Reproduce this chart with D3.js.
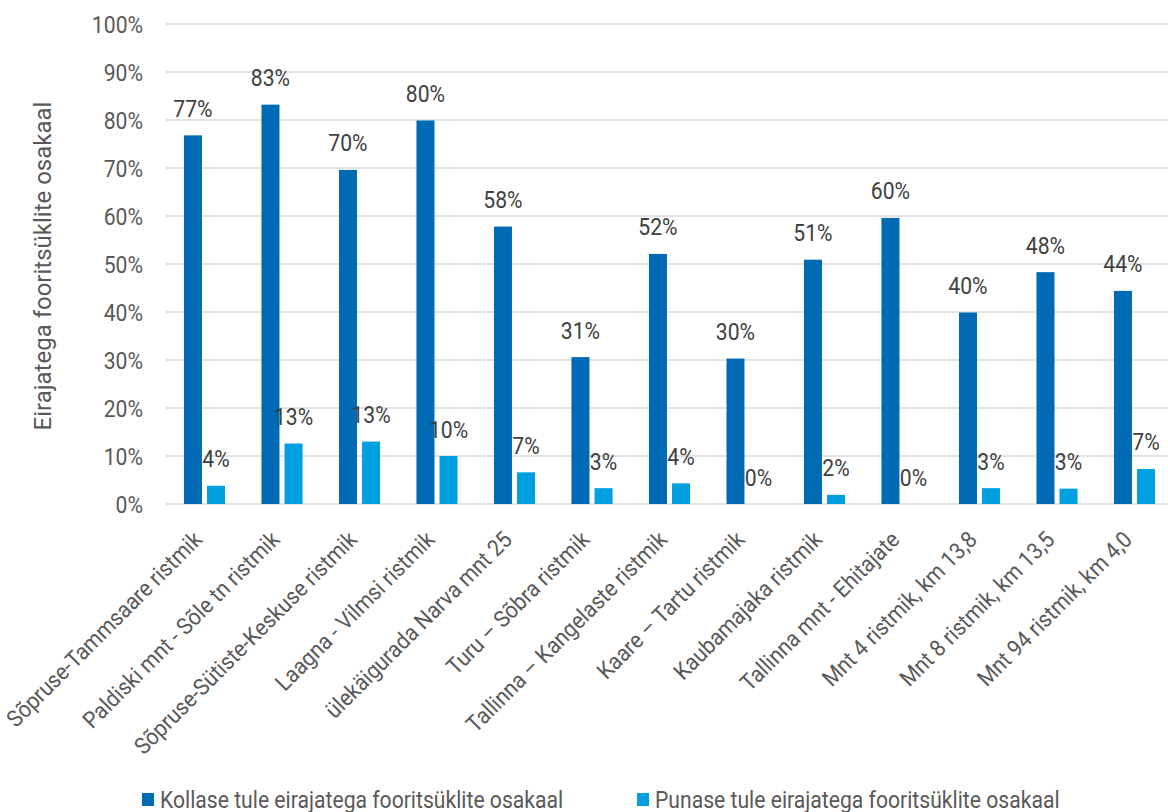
<!DOCTYPE html>
<html>
<head>
<meta charset="utf-8">
<script src="https://cdn.jsdelivr.net/npm/d3@7"></script>
<style>
  html, body { margin: 0; padding: 0; background: #fff; }
  svg { display: block; }
  text { font-family: Roboto, "Noto Sans", sans-serif; }
</style>
</head>
<body>
<svg id="chart" width="1168" height="812"></svg>
<script>
// Intersections
const categories = [
  "Sõpruse-Tammsaare ristmik",
  "Paldiski mnt - Sõle tn ristmik",
  "Sõpruse-Sütiste-Keskuse ristmik",
  "Laagna - Vilmsi ristmik",
  "ülekäigurada Narva mnt 25",
  "Turu – Sõbra ristmik",
  "Tallinna – Kangelaste ristmik",
  "Kaare – Tartu ristmik",
  "Kaubamajaka ristmik",
  "Tallinna mnt - Ehitajate",
  "Mnt 4 ristmik, km 13,8",
  "Mnt 8 ristmik, km 13,5",
  "Mnt 94 ristmik, km 4,0"
];

// Share of signal cycles with amber-light violations (%)
const amberValues = [76.8, 83.2, 69.6, 79.9, 57.8, 30.6, 52.1, 30.3, 50.9, 59.6, 39.9, 48.3, 44.4];
// Share of signal cycles with red-light violations (%)
const redValues = [3.8, 12.6, 13.0, 10.0, 6.6, 3.3, 4.3, 0, 1.9, 0, 3.3, 3.2, 7.3];

const seriesNames = [
  "Kollase tule eirajatega fooritsüklite osakaal",
  "Punase tule eirajatega fooritsüklite osakaal"
];
const seriesColors = ["#006AB4", "#009FDF"];

const yTicks = [0, 10, 20, 30, 40, 50, 60, 70, 80, 90, 100];
const yTitle = "Eirajatega fooritsüklite osakaal";

const rows = categories.map((c, i) => ({ cat: c, values: [amberValues[i], redValues[i]] }));

// Horizontal squeeze giving a condensed face from Roboto
const SX = 0.92;
const FS = 23;

const svg = d3.select("#chart");
const W = 1168;

const x0 = d3.scaleBand()
  .domain(categories)
  .range([165.75, 1173.25])
  .paddingInner(0.47)
  .paddingOuter(0.235);

const x1 = d3.scaleBand()
  .domain([0, 1])
  .range([0, x0.bandwidth()])
  .paddingInner(0.22);

const y = d3.scaleLinear().domain([0, 100]).range([504, 24]);

// Gridlines
svg.append("g")
  .selectAll("line")
  .data(yTicks)
  .join("line")
  .attr("x1", 166)
  .attr("x2", W)
  .attr("y1", d => y(d))
  .attr("y2", d => y(d))
  .attr("stroke", "#d9d9d9")
  .attr("stroke-width", 1.5);

// Y axis tick labels
const yAxis = d3.axisLeft(y)
  .tickValues(yTicks)
  .tickFormat(d => d + "%")
  .tickSize(0)
  .tickPadding(0);

const yg = svg.append("g")
  .attr("transform", "translate(143,0)")
  .call(yAxis);
yg.select(".domain").remove();
yg.selectAll("text")
  .attr("font-family", null)
  .attr("font-size", FS)
  .attr("fill", "#595959")
  .attr("x", 0)
  .attr("dy", "0.36em")
  .attr("transform", `scale(${SX},1)`);

// Y axis title
svg.append("text")
  .attr("transform", "translate(51,266) rotate(-90)")
  .attr("text-anchor", "middle")
  .attr("font-size", 24)
  .attr("fill", "#595959")
  .text(yTitle);

// Bars
const groups = svg.append("g")
  .selectAll("g")
  .data(rows)
  .join("g")
  .attr("transform", d => `translate(${x0(d.cat)},0)`);

groups.selectAll("rect")
  .data(d => d.values.map((v, i) => ({ v, i })))
  .join("rect")
  .attr("x", d => x1(d.i))
  .attr("width", x1.bandwidth())
  .attr("y", d => y(d.v))
  .attr("height", d => y(0) - y(d.v))
  .attr("fill", d => seriesColors[d.i]);

// Value labels
groups.selectAll("text")
  .data(d => d.values.map((v, i) => ({ v, i })))
  .join("text")
  .attr("transform", d => `translate(${x1(d.i) + x1.bandwidth() / 2},${y(d.v) - 18.5}) scale(${SX},1)`)
  .attr("text-anchor", "middle")
  .attr("font-size", FS)
  .attr("fill", "#404040")
  .text(d => Math.round(d.v) + "%");

// Category labels
svg.append("g")
  .selectAll("text")
  .data(categories)
  .join("text")
  .attr("text-anchor", "end")
  .attr("font-size", FS)
  .attr("fill", "#595959")
  .attr("transform", d => `translate(${x0(d) + x0.bandwidth() / 2 - 1},541) rotate(-45) scale(${SX},1)`)
  .text(d => d);

// Legend
const legendX = [142, 637];
const legend = svg.append("g")
  .selectAll("g")
  .data(seriesNames)
  .join("g")
  .attr("transform", (d, i) => `translate(${legendX[i]},793)`);
legend.append("rect")
  .attr("width", 12)
  .attr("height", 13)
  .attr("fill", (d, i) => seriesColors[i]);
legend.append("text")
  .attr("transform", `translate(18,15) scale(${SX},1)`)
  .attr("font-size", FS)
  .attr("fill", "#595959")
  .text(d => d);
</script>
</body>
</html>
